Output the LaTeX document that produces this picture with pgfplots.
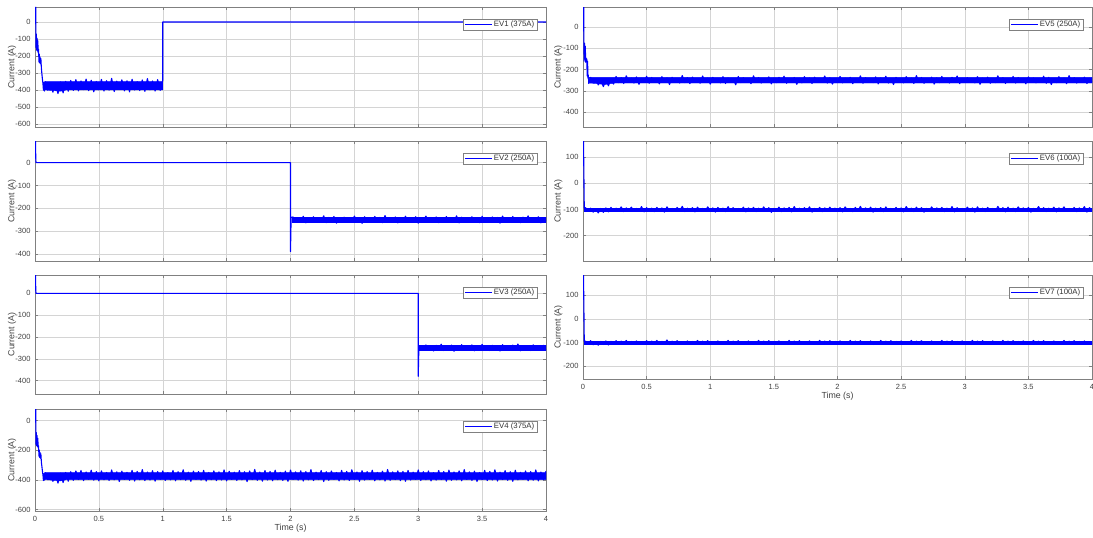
\documentclass[border=0pt]{standalone}
\usepackage{pgfplots}
\pgfplotsset{compat=1.18}
\usepackage{fontspec}
\setmainfont{Liberation Sans}
\pgfplotsset{
 sig/.style={blue, line width=1.1pt, mark=none, line join=round},
 core/.style={blue, fill=blue, line width=0.4pt, mark=none, forget plot},
 ev/.style={
  scale only axis, anchor=north west,
  xmin=0, xmax=4, xtick={0,0.5,...,4},
  grid=major, major grid style={black!17, line width=0.5pt},
  axis line style={black!50, line width=0.5pt},
  tick style={black!50, line width=0.5pt}, major tick length=3pt,
  tick align=inside,
  /pgf/number format/assume math mode=true,
  scaled ticks=false,
  xticklabel style={/pgf/number format/fixed, yshift=-2pt},
  yticklabel style={xshift=-1pt},
  ticklabel style={font=\fontsize{7.5}{9}\selectfont, text=black!75},
  ylabel={Current (A)},
  label style={font=\fontsize{8.8}{10}\selectfont, text=black!75},
  legend style={at={(1,1)}, anchor=north east, xshift=-8.5pt, yshift=-11.5pt,
    draw=black!50, fill=white, font=\fontsize{7.8}{9}\selectfont, text=black!80,
    inner xsep=1.5pt, inner ysep=0.5pt, nodes={inner sep=1.5pt}, cells={anchor=west}},
  legend image code/.code={\draw[blue,line width=0.8pt] (0pt,0pt) -- (27pt,0pt);},
 },
 evL/.style={ev, width=511pt, y label style={at={(axis description cs:-0.045,0.5)}, anchor=center}},
 evR/.style={ev, width=509pt, y label style={at={(axis description cs:-0.0485,0.5)}, anchor=center}},
 tlab/.style={xlabel={Time (s)}, x label style={at={(axis description cs:0.5,0)}, anchor=center, yshift=-17.5pt}},
}
\begin{document}
\begin{tikzpicture}
\path[use as bounding box] (0pt,0pt) rectangle (1093pt,-538pt);
% EV1
\begin{axis}[evL, at={(35pt,-7pt)}, height=120pt, ymin=-616, ymax=88, ytick={-600,-500,...,0}, xticklabels={}]
\addplot[sig] coordinates {(0.006,88) (0.006,5) (0.007,-60) (0.008,-150) (0.010,-70) (0.013,-165) (0.016,-95) (0.019,-170) (0.022,-110) (0.025,-180) (0.028,-160) (0.031,-235) (0.034,-190) (0.037,-240) (0.040,-205) (0.043,-245) (0.046,-215) (0.050,-270) (0.054,-305) (0.058,-335) (0.062,-360) (0.066,-400) (0.070,-355) (0.074,-405)
(0.08,-350) (0.10,-400) (0.12,-356) (0.14,-412) (0.16,-360) (0.18,-420) (0.20,-352) (0.22,-416) (0.24,-348) (0.26,-406)
(0.28,-343) (0.30,-401) (0.32,-338) (0.34,-404) (0.36,-346) (0.38,-397) (0.40,-335) (0.42,-403) (0.44,-342) (0.46,-409)
(0.48,-349) (0.50,-398) (0.52,-337) (0.54,-405) (0.56,-344) (0.58,-400) (0.60,-331) (0.62,-408) (0.64,-347) (0.66,-396)
(0.68,-339) (0.70,-404) (0.72,-345) (0.74,-410) (0.76,-336) (0.78,-399) (0.80,-350) (0.82,-402) (0.84,-340) (0.86,-407)
(0.88,-332) (0.90,-398) (0.92,-346) (0.94,-405) (0.96,-338) (0.98,-401) (1.00,-343) (1.00,0) (4,0)};
\addplot[core] coordinates {(0.075,-350) (1.0,-350) (1.0,-398) (0.25,-398) (0.2,-406) (0.12,-401) (0.075,-398)} -- cycle;
\legend{EV1 (375A)}
\end{axis}
% EV2
\begin{axis}[evL, at={(35pt,-141pt)}, height=120pt, ymin=-431, ymax=95, ytick={-400,-300,...,0}, xticklabels={}]
\addplot[sig] coordinates {(0.004,95) (0.006,20) (0.008,0) (2.0,0) (2.0,-390) (2.005,-240)
(2.02,-238) (2.04,-262) (2.06,-241) (2.08,-258) (2.10,-235) (2.12,-264) (2.14,-243) (2.16,-257) (2.18,-237) (2.20,-261)
(2.22,-244) (2.24,-259) (2.26,-233) (2.28,-263) (2.30,-240) (2.32,-256) (2.34,-236) (2.36,-265) (2.38,-242) (2.40,-260)
(2.42,-239) (2.44,-257) (2.46,-245) (2.48,-262) (2.50,-234) (2.52,-258) (2.54,-241) (2.56,-266) (2.58,-237) (2.60,-259)
(2.62,-243) (2.64,-261) (2.66,-236) (2.68,-256) (2.70,-240) (2.72,-263) (2.74,-232) (2.76,-258) (2.78,-244) (2.80,-260)
(2.82,-238) (2.84,-264) (2.86,-242) (2.88,-257) (2.90,-235) (2.92,-262) (2.94,-241) (2.96,-259) (2.98,-237) (3.00,-265)
(3.02,-243) (3.04,-258) (3.06,-234) (3.08,-261) (3.10,-240) (3.12,-256) (3.14,-238) (3.16,-263) (3.18,-245) (3.20,-259)
(3.22,-236) (3.24,-262) (3.26,-242) (3.28,-257) (3.30,-233) (3.32,-264) (3.34,-239) (3.36,-258) (3.38,-244) (3.40,-261)
(3.42,-237) (3.44,-256) (3.46,-241) (3.48,-263) (3.50,-235) (3.52,-259) (3.54,-243) (3.56,-262) (3.58,-238) (3.60,-257)
(3.62,-240) (3.64,-265) (3.66,-234) (3.68,-258) (3.70,-242) (3.72,-261) (3.74,-236) (3.76,-259) (3.78,-244) (3.80,-263)
(3.82,-239) (3.84,-257) (3.86,-233) (3.88,-262) (3.90,-241) (3.92,-258) (3.94,-237) (3.96,-264) (3.98,-243) (4.00,-256)};
\addplot[core] coordinates {(2.01,-239) (4.0,-239) (4.0,-261) (2.01,-261)} -- cycle;
\legend{EV2 (250A)}
\end{axis}
% EV3
\begin{axis}[evL, at={(35pt,-275pt)}, height=119pt, ymin=-461, ymax=84, ytick={-400,-300,...,0}, xticklabels={}]
\addplot[sig] coordinates {(0.004,84) (0.006,15) (0.008,0) (3.0,0) (3.0,-380) (3.005,-245)
(3.02,-240) (3.04,-261) (3.06,-236) (3.08,-258) (3.10,-243) (3.12,-264) (3.14,-238) (3.16,-256) (3.18,-233) (3.20,-262)
(3.22,-241) (3.24,-259) (3.26,-237) (3.28,-265) (3.30,-244) (3.32,-257) (3.34,-235) (3.36,-261) (3.38,-240) (3.40,-258)
(3.42,-236) (3.44,-263) (3.46,-242) (3.48,-256) (3.50,-234) (3.52,-260) (3.54,-245) (3.56,-262) (3.58,-238) (3.60,-257)
(3.62,-241) (3.64,-264) (3.66,-235) (3.68,-259) (3.70,-243) (3.72,-261) (3.74,-237) (3.76,-256) (3.78,-232) (3.80,-263)
(3.82,-240) (3.84,-258) (3.86,-244) (3.88,-262) (3.90,-236) (3.92,-257) (3.94,-242) (3.96,-260) (3.98,-238) (4.00,-259)};
\addplot[core] coordinates {(3.01,-239) (4.0,-239) (4.0,-260) (3.01,-260)} -- cycle;
\legend{EV3 (250A)}
\end{axis}
% EV4
\begin{axis}[evL, tlab, at={(35pt,-409pt)}, height=102pt, ymin=-610, ymax=78, ytick={-600,-400,-200,0}]
\addplot[sig] coordinates {(0.006,78) (0.006,5) (0.007,-70) (0.008,-160) (0.010,-80) (0.013,-170) (0.016,-100) (0.019,-175) (0.022,-120) (0.025,-185) (0.028,-170) (0.031,-240) (0.034,-200) (0.037,-250) (0.040,-215) (0.043,-255) (0.046,-225) (0.050,-280) (0.054,-310) (0.058,-340) (0.062,-365) (0.066,-405) (0.070,-358) (0.074,-402)
(0.08,-352) (0.10,-398) (0.12,-358) (0.14,-410) (0.16,-362) (0.18,-422) (0.20,-355) (0.22,-418) (0.24,-350) (0.26,-409)
(0.28,-345) (0.30,-403) (0.32,-340) (0.34,-398) (0.36,-337) (0.38,-405) (0.40,-347) (0.42,-396) (0.44,-335) (0.46,-402)
(0.48,-344) (0.50,-407) (0.52,-339) (0.54,-399) (0.56,-350) (0.58,-404) (0.60,-333) (0.62,-400) (0.64,-346) (0.66,-411)
(0.68,-341) (0.70,-397) (0.72,-349) (0.74,-403) (0.76,-336) (0.78,-408) (0.80,-343) (0.82,-399) (0.84,-331) (0.86,-405)
(0.88,-347) (0.90,-401) (0.92,-338) (0.94,-409) (0.96,-344) (0.98,-396) (1.00,-340) (1.02,-404) (1.04,-351) (1.06,-400)
(1.08,-337) (1.10,-406) (1.12,-345) (1.14,-398) (1.16,-332) (1.18,-403) (1.20,-348) (1.22,-410) (1.24,-341) (1.26,-397)
(1.28,-344) (1.30,-402) (1.32,-336) (1.34,-408) (1.36,-350) (1.38,-399) (1.40,-339) (1.42,-405) (1.44,-346) (1.46,-401)
(1.48,-333) (1.50,-407) (1.52,-342) (1.54,-397) (1.56,-348) (1.58,-404) (1.60,-338) (1.62,-400) (1.64,-345) (1.66,-412)
(1.68,-340) (1.70,-398) (1.72,-330) (1.74,-403) (1.76,-347) (1.78,-409) (1.80,-337) (1.82,-401) (1.84,-343) (1.86,-406)
(1.88,-335) (1.90,-399) (1.92,-349) (1.94,-404) (1.96,-341) (1.98,-410) (2.00,-334) (2.02,-397) (2.04,-346) (2.06,-402)
(2.08,-339) (2.10,-408) (2.12,-344) (2.14,-400) (2.16,-331) (2.18,-405) (2.20,-348) (2.22,-398) (2.24,-337) (2.26,-411)
(2.28,-345) (2.30,-403) (2.32,-340) (2.34,-396) (2.36,-350) (2.38,-407) (2.40,-336) (2.42,-401) (2.44,-343) (2.46,-404)
(2.48,-332) (2.50,-399) (2.52,-347) (2.54,-409) (2.56,-338) (2.58,-402) (2.60,-344) (2.62,-397) (2.64,-335) (2.66,-406)
(2.68,-349) (2.70,-400) (2.72,-341) (2.74,-408) (2.76,-330) (2.78,-403) (2.80,-346) (2.82,-398) (2.84,-339) (2.86,-405)
(2.88,-343) (2.90,-410) (2.92,-336) (2.94,-401) (2.96,-348) (2.98,-397) (3.00,-333) (3.02,-404) (3.04,-345) (3.06,-399)
(3.08,-340) (3.10,-407) (3.12,-351) (3.14,-402) (3.16,-337) (3.18,-398) (3.20,-344) (3.22,-409) (3.24,-334) (3.26,-403)
(3.28,-347) (3.30,-400) (3.32,-339) (3.34,-406) (3.36,-331) (3.38,-397) (3.40,-346) (3.42,-404) (3.44,-341) (3.46,-411)
(3.48,-350) (3.50,-399) (3.52,-336) (3.54,-405) (3.56,-343) (3.58,-401) (3.60,-332) (3.62,-408) (3.64,-348) (3.66,-398)
(3.68,-338) (3.70,-403) (3.72,-345) (3.74,-410) (3.76,-335) (3.78,-400) (3.80,-349) (3.82,-396) (3.84,-340) (3.86,-406)
(3.88,-344) (3.90,-402) (3.92,-333) (3.94,-407) (3.96,-347) (3.98,-399) (4.00,-341)};
\addplot[core] coordinates {(0.075,-351) (4.0,-351) (4.0,-398) (0.25,-398) (0.2,-407) (0.12,-401) (0.075,-398)} -- cycle;
\legend{EV4 (375A)}
\end{axis}
% EV5
\begin{axis}[evR, at={(583pt,-7pt)}, height=120pt, ymin=-470, ymax=95, ytick={-400,-300,...,0}, xticklabels={}]
\addplot[sig] coordinates {(0.006,95) (0.006,0) (0.007,-80) (0.009,-160) (0.012,-75) (0.015,-150) (0.018,-90) (0.021,-165) (0.024,-145) (0.027,-160) (0.030,-150) (0.033,-230) (0.036,-160) (0.039,-240) (0.042,-225) (0.045,-265)
(0.06,-236) (0.08,-262) (0.10,-245) (0.12,-272) (0.14,-250) (0.16,-280) (0.18,-247) (0.20,-276) (0.22,-243) (0.24,-268)
(0.26,-232) (0.28,-261) (0.30,-238) (0.32,-265) (0.34,-229) (0.36,-258) (0.38,-240) (0.40,-263) (0.42,-234) (0.44,-269)
(0.46,-241) (0.48,-257) (0.50,-231) (0.52,-264) (0.54,-237) (0.56,-260) (0.58,-243) (0.60,-267) (0.62,-233) (0.64,-259)
(0.66,-239) (0.68,-270) (0.70,-236) (0.72,-256) (0.74,-242) (0.76,-263) (0.78,-228) (0.80,-261) (0.82,-238) (0.84,-266)
(0.86,-235) (0.88,-258) (0.90,-244) (0.92,-264) (0.94,-230) (0.96,-260) (0.98,-240) (1.00,-268) (1.02,-236) (1.04,-257)
(1.06,-241) (1.08,-262) (1.10,-233) (1.12,-265) (1.14,-239) (1.16,-259) (1.18,-245) (1.20,-271) (1.22,-232) (1.24,-261)
(1.26,-238) (1.28,-256) (1.30,-242) (1.32,-266) (1.34,-229) (1.36,-260) (1.38,-237) (1.40,-263) (1.42,-243) (1.44,-258)
(1.46,-234) (1.48,-267) (1.50,-240) (1.52,-261) (1.54,-236) (1.56,-257) (1.58,-231) (1.60,-264) (1.62,-244) (1.64,-259)
(1.66,-237) (1.68,-269) (1.70,-241) (1.72,-262) (1.74,-233) (1.76,-258) (1.78,-239) (1.80,-265) (1.82,-235) (1.84,-260)
(1.86,-242) (1.88,-256) (1.90,-230) (1.92,-263) (1.94,-238) (1.96,-268) (1.98,-244) (2.00,-259) (2.02,-232) (2.04,-262)
(2.06,-240) (2.08,-257) (2.10,-236) (2.12,-266) (2.14,-243) (2.16,-260) (2.18,-229) (2.20,-264) (2.22,-238) (2.24,-258)
(2.26,-245) (2.28,-261) (2.30,-234) (2.32,-267) (2.34,-239) (2.36,-256) (2.38,-231) (2.40,-263) (2.42,-241) (2.44,-270)
(2.46,-236) (2.48,-259) (2.50,-243) (2.52,-262) (2.54,-233) (2.56,-257) (2.58,-240) (2.60,-265) (2.62,-228) (2.64,-260)
(2.66,-237) (2.68,-264) (2.70,-244) (2.72,-258) (2.74,-235) (2.76,-268) (2.78,-239) (2.80,-261) (2.82,-232) (2.84,-256)
(2.86,-242) (2.88,-263) (2.90,-236) (2.92,-259) (2.94,-230) (2.96,-266) (2.98,-241) (3.00,-260) (3.02,-238) (3.04,-257)
(3.06,-245) (3.08,-262) (3.10,-233) (3.12,-269) (3.14,-240) (3.16,-258) (3.18,-235) (3.20,-264) (3.22,-243) (3.24,-261)
(3.26,-229) (3.28,-257) (3.30,-238) (3.32,-265) (3.34,-244) (3.36,-260) (3.38,-232) (3.40,-263) (3.42,-237) (3.44,-256)
(3.46,-241) (3.48,-267) (3.50,-234) (3.52,-259) (3.54,-239) (3.56,-262) (3.58,-245) (3.60,-258) (3.62,-231) (3.64,-264)
(3.66,-236) (3.68,-270) (3.70,-242) (3.72,-261) (3.74,-233) (3.76,-257) (3.78,-240) (3.80,-266) (3.82,-228) (3.84,-260)
(3.86,-238) (3.88,-263) (3.90,-244) (3.92,-258) (3.94,-235) (3.96,-265) (3.98,-241) (4.00,-259)};
\addplot[core] coordinates {(0.05,-236) (4.0,-236) (4.0,-263) (0.25,-263) (0.17,-270) (0.1,-265) (0.05,-263)} -- cycle;
\legend{EV5 (250A)}
\end{axis}
% EV6
\begin{axis}[evR, at={(583pt,-141pt)}, height=120pt, ymin=-297, ymax=162, ytick={-200,-100,0,100}, xticklabels={}]
\addplot[sig] coordinates {(0.004,162) (0.010,-95)
(0.02,-93) (0.04,-106) (0.06,-95) (0.08,-110) (0.10,-97) (0.12,-113) (0.14,-96) (0.16,-111) (0.18,-94) (0.20,-109)
(0.22,-92) (0.24,-107) (0.26,-95) (0.28,-105) (0.30,-90) (0.32,-108) (0.34,-94) (0.36,-104) (0.38,-91) (0.40,-107)
(0.42,-96) (0.44,-106) (0.46,-89) (0.48,-109) (0.50,-93) (0.52,-105) (0.54,-95) (0.56,-108) (0.58,-92) (0.60,-104)
(0.62,-94) (0.64,-110) (0.66,-90) (0.68,-106) (0.70,-96) (0.72,-107) (0.74,-92) (0.76,-105) (0.78,-88) (0.80,-108)
(0.82,-95) (0.84,-104) (0.86,-93) (0.88,-109) (0.90,-91) (0.92,-106) (0.94,-96) (0.96,-107) (0.98,-90) (1.00,-105)
(1.02,-94) (1.04,-110) (1.06,-92) (1.08,-104) (1.10,-95) (1.12,-108) (1.14,-89) (1.16,-106) (1.18,-93) (1.20,-107)
(1.22,-96) (1.24,-105) (1.26,-91) (1.28,-109) (1.30,-94) (1.32,-104) (1.34,-92) (1.36,-108) (1.38,-95) (1.40,-106)
(1.42,-90) (1.44,-107) (1.46,-93) (1.48,-111) (1.50,-96) (1.52,-105) (1.54,-91) (1.56,-108) (1.58,-94) (1.60,-104)
(1.62,-92) (1.64,-109) (1.66,-89) (1.68,-106) (1.70,-95) (1.72,-107) (1.74,-93) (1.76,-105) (1.78,-90) (1.80,-110)
(1.82,-96) (1.84,-104) (1.86,-92) (1.88,-108) (1.90,-94) (1.92,-106) (1.94,-91) (1.96,-107) (1.98,-95) (2.00,-105)
(2.02,-93) (2.04,-109) (2.06,-90) (2.08,-104) (2.10,-96) (2.12,-108) (2.14,-92) (2.16,-106) (2.18,-88) (2.20,-107)
(2.22,-94) (2.24,-105) (2.26,-91) (2.28,-110) (2.30,-95) (2.32,-104) (2.34,-93) (2.36,-108) (2.38,-90) (2.40,-106)
(2.42,-96) (2.44,-107) (2.46,-92) (2.48,-105) (2.50,-94) (2.52,-109) (2.54,-89) (2.56,-104) (2.58,-95) (2.60,-108)
(2.62,-91) (2.64,-106) (2.66,-93) (2.68,-110) (2.70,-96) (2.72,-105) (2.74,-90) (2.76,-107) (2.78,-94) (2.80,-104)
(2.82,-92) (2.84,-108) (2.86,-95) (2.88,-106) (2.90,-89) (2.92,-109) (2.94,-93) (2.96,-105) (2.98,-96) (3.00,-107)
(3.02,-91) (3.04,-104) (3.06,-94) (3.08,-110) (3.10,-90) (3.12,-106) (3.14,-95) (3.16,-108) (3.18,-92) (3.20,-105)
(3.22,-96) (3.24,-107) (3.26,-88) (3.28,-104) (3.30,-93) (3.32,-109) (3.34,-91) (3.36,-106) (3.38,-95) (3.40,-108)
(3.42,-90) (3.44,-105) (3.46,-94) (3.48,-107) (3.50,-92) (3.52,-110) (3.54,-96) (3.56,-104) (3.58,-89) (3.60,-106)
(3.62,-93) (3.64,-108) (3.66,-95) (3.68,-105) (3.70,-91) (3.72,-109) (3.74,-94) (3.76,-104) (3.78,-90) (3.80,-107)
(3.82,-96) (3.84,-106) (3.86,-92) (3.88,-108) (3.90,-94) (3.92,-105) (3.94,-89) (3.96,-110) (3.98,-93) (4.00,-104)};
\addplot[core] coordinates {(0.01,-94) (4.0,-94) (4.0,-106) (0.01,-106)} -- cycle;
\legend{EV6 (100A)}
\end{axis}
% EV7
\begin{axis}[evR, tlab, at={(583pt,-275pt)}, height=104pt, ymin=-253, ymax=184, ytick={-200,-100,0,100}]
\addplot[sig] coordinates {(0.004,184) (0.010,-95)
(0.02,-94) (0.04,-105) (0.06,-92) (0.08,-109) (0.10,-96) (0.12,-111) (0.14,-95) (0.16,-108) (0.18,-93) (0.20,-110)
(0.22,-95) (0.24,-104) (0.26,-92) (0.28,-107) (0.30,-94) (0.32,-105) (0.34,-91) (0.36,-106) (0.38,-95) (0.40,-104)
(0.42,-93) (0.44,-107) (0.46,-96) (0.48,-105) (0.50,-92) (0.52,-106) (0.54,-94) (0.56,-104) (0.58,-91) (0.60,-107)
(0.62,-95) (0.64,-105) (0.66,-89) (0.68,-108) (0.70,-94) (0.72,-104) (0.74,-92) (0.76,-106) (0.78,-96) (0.80,-105)
(0.82,-93) (0.84,-107) (0.86,-95) (0.88,-104) (0.90,-91) (0.92,-106) (0.94,-94) (0.96,-105) (0.98,-92) (1.00,-107)
(1.02,-96) (1.04,-104) (1.06,-93) (1.08,-106) (1.10,-95) (1.12,-105) (1.14,-91) (1.16,-107) (1.18,-94) (1.20,-104)
(1.22,-92) (1.24,-106) (1.26,-95) (1.28,-105) (1.30,-93) (1.32,-107) (1.34,-96) (1.36,-104) (1.38,-91) (1.40,-106)
(1.42,-94) (1.44,-105) (1.46,-92) (1.48,-107) (1.50,-95) (1.52,-104) (1.54,-93) (1.56,-106) (1.58,-96) (1.60,-105)
(1.62,-91) (1.64,-107) (1.66,-94) (1.68,-104) (1.70,-92) (1.72,-106) (1.74,-95) (1.76,-105) (1.78,-93) (1.80,-107)
(1.82,-96) (1.84,-104) (1.86,-91) (1.88,-106) (1.90,-94) (1.92,-105) (1.94,-92) (1.96,-107) (1.98,-95) (2.00,-104)
(2.02,-93) (2.04,-106) (2.06,-96) (2.08,-105) (2.10,-91) (2.12,-107) (2.14,-94) (2.16,-104) (2.18,-92) (2.20,-106)
(2.22,-95) (2.24,-105) (2.26,-93) (2.28,-108) (2.30,-96) (2.32,-104) (2.34,-91) (2.36,-106) (2.38,-94) (2.40,-105)
(2.42,-92) (2.44,-107) (2.46,-95) (2.48,-104) (2.50,-93) (2.52,-106) (2.54,-96) (2.56,-105) (2.58,-91) (2.60,-107)
(2.62,-94) (2.64,-104) (2.66,-92) (2.68,-106) (2.70,-95) (2.72,-105) (2.74,-93) (2.76,-107) (2.78,-96) (2.80,-104)
(2.82,-91) (2.84,-106) (2.86,-94) (2.88,-105) (2.90,-92) (2.92,-107) (2.94,-95) (2.96,-104) (2.98,-93) (3.00,-106)
(3.02,-96) (3.04,-105) (3.06,-91) (3.08,-107) (3.10,-94) (3.12,-104) (3.14,-92) (3.16,-106) (3.18,-95) (3.20,-105)
(3.22,-93) (3.24,-107) (3.26,-96) (3.28,-104) (3.30,-91) (3.32,-106) (3.34,-94) (3.36,-105) (3.38,-92) (3.40,-107)
(3.42,-95) (3.44,-104) (3.46,-93) (3.48,-106) (3.50,-96) (3.52,-105) (3.54,-91) (3.56,-107) (3.58,-94) (3.60,-104)
(3.62,-92) (3.64,-106) (3.66,-95) (3.68,-105) (3.70,-93) (3.72,-107) (3.74,-96) (3.76,-104) (3.78,-91) (3.80,-106)
(3.82,-94) (3.84,-105) (3.86,-92) (3.88,-107) (3.90,-95) (3.92,-104) (3.94,-93) (3.96,-106) (3.98,-96) (4.00,-105)};
\addplot[core] coordinates {(0.01,-95) (4.0,-95) (4.0,-105) (0.01,-105)} -- cycle;
\legend{EV7 (100A)}
\end{axis}
\end{tikzpicture}
\end{document}
